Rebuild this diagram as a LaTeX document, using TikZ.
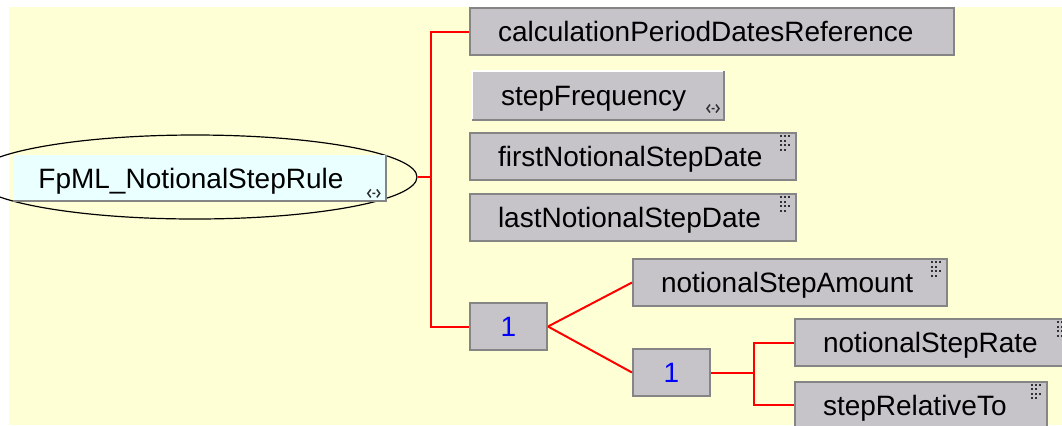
\documentclass[tikz,border=0pt]{standalone}
\usepackage{fontspec}
\setmainfont{Liberation Sans}
\usepackage{tikz}
\usetikzlibrary{positioning,shapes.geometric}
\definecolor{back}{HTML}{FFFFD6}
\definecolor{elem}{HTML}{C6C4C9}
\definecolor{rim}{HTML}{858585}
\definecolor{rootfill}{HTML}{EAFFFF}
\definecolor{wire}{HTML}{FF0000}
\definecolor{num}{HTML}{0000FF}
\definecolor{sign}{HTML}{303030}
% small signs in the corners of the boxes
\newcommand\choicemark[1]{\draw[sign,line width=.75pt] (#1) ++(-3,-4) -- ++(-3,4) -- ++(3,4)
 (#1) ++(3,-4) -- ++(3,4) -- ++(-3,4) (#1) ++(-1.5,0) -- ++(3,0);}
\newcommand\gridmark[1]{\draw[sign,line width=1pt,dash pattern=on 1pt off 1pt] (#1) -- ++(10,0)
 (#1) ++(0,4.5) -- ++(6,0) (#1) ++(0,9) -- ++(10,0) (#1) ++(0,13.5) -- ++(6,0);}

\begin{document}
\begin{tikzpicture}[x=.5pt,y=-.5pt,
 n/.style={draw=rim,fill=elem,line width=1pt,anchor=west,inner xsep=14pt,text width=#1,align=left,
  minimum height=23.5pt,text height=10pt,text depth=0pt,font=\fontsize{14}{16}\selectfont},
 n/.default=100pt,
 seqbox/.style={draw=rim,fill=elem,line width=1pt,anchor=west,minimum width=38.5pt,minimum height=23.5pt,
  text height=10pt,text depth=0pt,text=num,font=\fontsize{14}{16}\selectfont},
 oval/.style={ellipse,draw=black,line width=.6pt,minimum width=222pt,minimum height=42pt,inner sep=0pt},
 rootbox/.style={fill=rootfill,anchor=west,inner xsep=12.5pt,text width=161pt,align=left,
  minimum height=23pt,text height=10pt,text depth=0pt,font=\fontsize{14}{16}\selectfont},
 a/.style={draw=wire,line width=1pt}]
\useasboundingbox (0,0) rectangle (1062,425);
\clip (0,0) rectangle (1062,425);
\fill[back] (9,7) rectangle (1062,425);
% root element
\node[oval] (rootoval) at (195,177) {};
\node[rootbox] (root) at (13,178) {FpML\_NotionalStepRule};
\draw[rim,line width=1pt] (root.north east) |- (root.south west);
\choicemark{[shift={(-12,-8)}]root.south east}
% children
\node[n=214pt] (calc) at (469,31.5) {calculationPeriodDatesReference};
\node[n=97pt,draw=none] (freq) at (472,95) {stepFrequency};
\draw[white,line width=1pt] (freq.south west) |- (freq.north east);
\draw[rim,line width=1pt] (freq.north east) |- (freq.south west);
\choicemark{[shift={(-11,-11)}]freq.south east}
\node[n=135pt] (first) at (469,156.5) {firstNotionalStepDate};
\node[n=135pt] (last) at (469,217.5) {lastNotionalStepDate};
\node[seqbox] (seq) at (469,326.5) {1};
\node[n=129pt] (amount) at (632,282.5) {notionalStepAmount};
\node[seqbox] (seq2) at (632,372.5) {1};
\node[n=111pt] (rate) at (794,342.5) {notionalStepRate};
\node[n=98pt] (rel) at (794,405) {stepRelativeTo};
\foreach \b in {first,last,amount,rate,rel} \gridmark{[shift={(-17,4)}]\b.north east};
% connectors
\coordinate (fork) at ([shift={(13,0)}]rootoval.east);
\coordinate (fork2) at ([shift={(43,0)}]seq2.east);
\draw[a] (rootoval.east) -- (fork);
\draw[a] (calc.west) -| (fork) |- (seq.west);
\draw[a] (seq.east) -- (amount.west);\draw[a] (seq.east) -- (seq2.west);
\draw[a] (seq2.east) -- (fork2);
\draw[a] (rate.west) -| (fork2) |- (rel.west);
\end{tikzpicture}
\end{document}
